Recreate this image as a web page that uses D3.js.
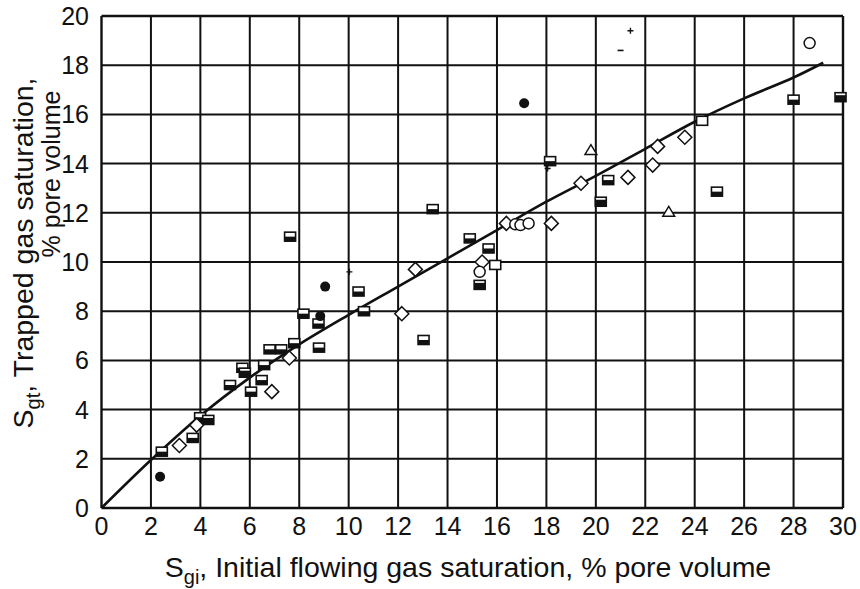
<!DOCTYPE html>
<html><head><meta charset="utf-8">
<script src="https://cdn.jsdelivr.net/npm/d3@7"></script>
<style>body{margin:0;background:#fff}svg{display:block}text{font-family:"Liberation Sans",Arial,sans-serif;fill:#111}</style>
</head><body>
<svg id="c" width="860" height="589"></svg>
<script>
const xTicks = [0,2,4,6,8,10,12,14,16,18,20,22,24,26,28,30];
const yTicks = [0,2,4,6,8,10,12,14,16,18,20];
const xTickLabels = ["0","2","4","6","8","10","12","14","16","18","20","22","24","26","28","30"];
const yTickLabels = ["0","2","4","6","8","10","12","14","16","18","20"];

const curve = [[0,0],[2,1.95],[4,3.75],[6,5.3],[8,6.65],[10,7.85],[12,9.0],[14,10.15],[16,11.3],[18,12.45],[20,13.5],[22,14.6],[24,15.7],[26,16.65],[28,17.5],[29.2,18.1]];

const halfSquares = [[2.44,2.29],[3.69,2.85],[3.99,3.69],[5.2,5.0],[5.7,5.7],[6.05,4.73],[6.48,5.2],[6.58,5.81],[6.8,6.45],[7.27,6.45],[7.8,6.7],[7.63,11.03],[8.17,7.9],[8.78,7.5],[8.8,6.52],[10.4,8.8],[10.62,8.0],[13.03,6.83],[13.4,12.15],[14.9,10.96],[15.66,10.55],[18.15,14.1],[20.5,13.33],[24.9,12.86],[28.0,16.6]];
const darkSquares = [[4.32,3.58],[5.8,5.5],[15.3,9.07],[20.2,12.45],[29.9,16.7]];
const openSquares = [[15.93,9.88],[24.3,15.74]];
const diamonds = [[3.15,2.54],[3.85,3.37],[6.89,4.73],[7.6,6.1],[12.15,7.9],[12.7,9.7],[15.4,10.0],[16.38,11.57],[18.2,11.57],[19.4,13.2],[21.3,13.44],[22.3,13.94],[22.5,14.7],[23.6,15.07]];
const openCircles = [[15.3,9.6],[16.74,11.53],[16.95,11.5],[17.28,11.57],[28.65,18.9]];
const filledCircles = [[2.37,1.27],[8.85,7.8],[9.05,9.0],[17.1,16.45]];
const triangles = [[19.8,14.55],[22.95,12.04]];
const pluses = [[10.03,9.6],[18.05,13.8],[21.4,19.4]];
const dashes = [[21.0,18.6]];

const svg = d3.select("#c");
const x = d3.scaleLinear().domain([0,30]).range([101.5,843]);
const y = d3.scaleLinear().domain([0,20]).range([508,16]);

// grid
const g = svg.append("g");
g.selectAll("line.v").data(xTicks).join("line")
 .attr("x1",d=>x(d)).attr("x2",d=>x(d)).attr("y1",y(0)).attr("y2",y(20))
 .attr("stroke","#111").attr("stroke-width",d=>(d===0||d===30)?2.4:2);
g.selectAll("line.h").data(yTicks).join("line")
 .attr("y1",d=>y(d)).attr("y2",d=>y(d)).attr("x1",x(0)).attr("x2",x(30))
 .attr("stroke","#111").attr("stroke-width",d=>(d===0||d===20)?2.6:2);

// tick labels
svg.selectAll("text.xt").data(xTicks).join("text")
 .attr("x",d=>x(d)).attr("y",535).attr("text-anchor","middle")
 .attr("font-size",25).text((d,i)=>xTickLabels[i]);
svg.selectAll("text.yt").data(yTicks).join("text")
 .attr("x",89).attr("y",d=>y(d)+9).attr("text-anchor","end")
 .attr("font-size",25).text((d,i)=>yTickLabels[i]);

// curve
svg.append("path").datum(curve)
 .attr("d",d3.line().x(d=>x(d[0])).y(d=>y(d[1])).curve(d3.curveCatmullRom))
 .attr("fill","none").attr("stroke","#111").attr("stroke-width",2.6);

// markers
const m = svg.append("g");
m.selectAll("g.hs").data(halfSquares.concat(darkSquares)).join("g")
 .attr("transform",d=>`translate(${x(d[0])},${y(d[1])})`)
 .each(function(d,i){
   const s=d3.select(this);
   const dark = i>=halfSquares.length;
   s.append("rect").attr("x",-5.5).attr("y",-4.5).attr("width",11).attr("height",9).attr("fill","#fff").attr("stroke","#111").attr("stroke-width",1.6);
   s.append("rect").attr("x",-5.5).attr("y",dark?-2:0).attr("width",11).attr("height",dark?6.5:4.5).attr("fill","#111");
 });
m.selectAll("rect.os").data(openSquares).join("rect")
 .attr("x",d=>x(d[0])-5.5).attr("y",d=>y(d[1])-4.5).attr("width",11).attr("height",9)
 .attr("fill","#fff").attr("stroke","#111").attr("stroke-width",1.6);
m.selectAll("path.dm").data(diamonds).join("path")
 .attr("transform",d=>`translate(${x(d[0])},${y(d[1])})`)
 .attr("d","M0,-7L7,0L0,7L-7,0Z").attr("fill","#fff").attr("stroke","#111").attr("stroke-width",1.5);
m.selectAll("circle.oc").data(openCircles).join("circle")
 .attr("cx",d=>x(d[0])).attr("cy",d=>y(d[1])).attr("r",5.5)
 .attr("fill","#fff").attr("stroke","#111").attr("stroke-width",1.5);
m.selectAll("circle.fc").data(filledCircles).join("circle")
 .attr("cx",d=>x(d[0])).attr("cy",d=>y(d[1])).attr("r",5)
 .attr("fill","#111");
m.selectAll("path.tr").data(triangles).join("path")
 .attr("transform",d=>`translate(${x(d[0])},${y(d[1])})`)
 .attr("d","M0,-5.5L6,4.5L-6,4.5Z").attr("fill","#fff").attr("stroke","#111").attr("stroke-width",1.4);
m.selectAll("path.pl").data(pluses).join("path")
 .attr("transform",d=>`translate(${x(d[0])},${y(d[1])})`)
 .attr("d","M-3,0H3M0,-3V3").attr("stroke","#111").attr("stroke-width",1.4);
m.selectAll("path.ds").data(dashes).join("path")
 .attr("transform",d=>`translate(${x(d[0])},${y(d[1])})`)
 .attr("d","M-3,0H3").attr("stroke","#111").attr("stroke-width",1.6);

// axis titles
const xt = svg.append("text").attr("x",468).attr("y",577).attr("text-anchor","middle").attr("font-size",28.5);
xt.append("tspan").text("S");
xt.append("tspan").attr("font-size",20).attr("dy",7).text("gi");
xt.append("tspan").attr("dy",-7).text(", Initial flowing gas saturation, % pore volume");

const yt1 = svg.append("text").attr("transform","translate(33,253) rotate(-90)").attr("text-anchor","middle").attr("font-size",28.5);
yt1.append("tspan").text("S");
yt1.append("tspan").attr("font-size",20).attr("dy",7).text("gt");
yt1.append("tspan").attr("dy",-7).text(", Trapped gas saturation,");
svg.append("text").attr("transform","translate(60,174) rotate(-90)").attr("text-anchor","middle").attr("font-size",25)
 .text("% pore volume");
</script>
</body></html>
